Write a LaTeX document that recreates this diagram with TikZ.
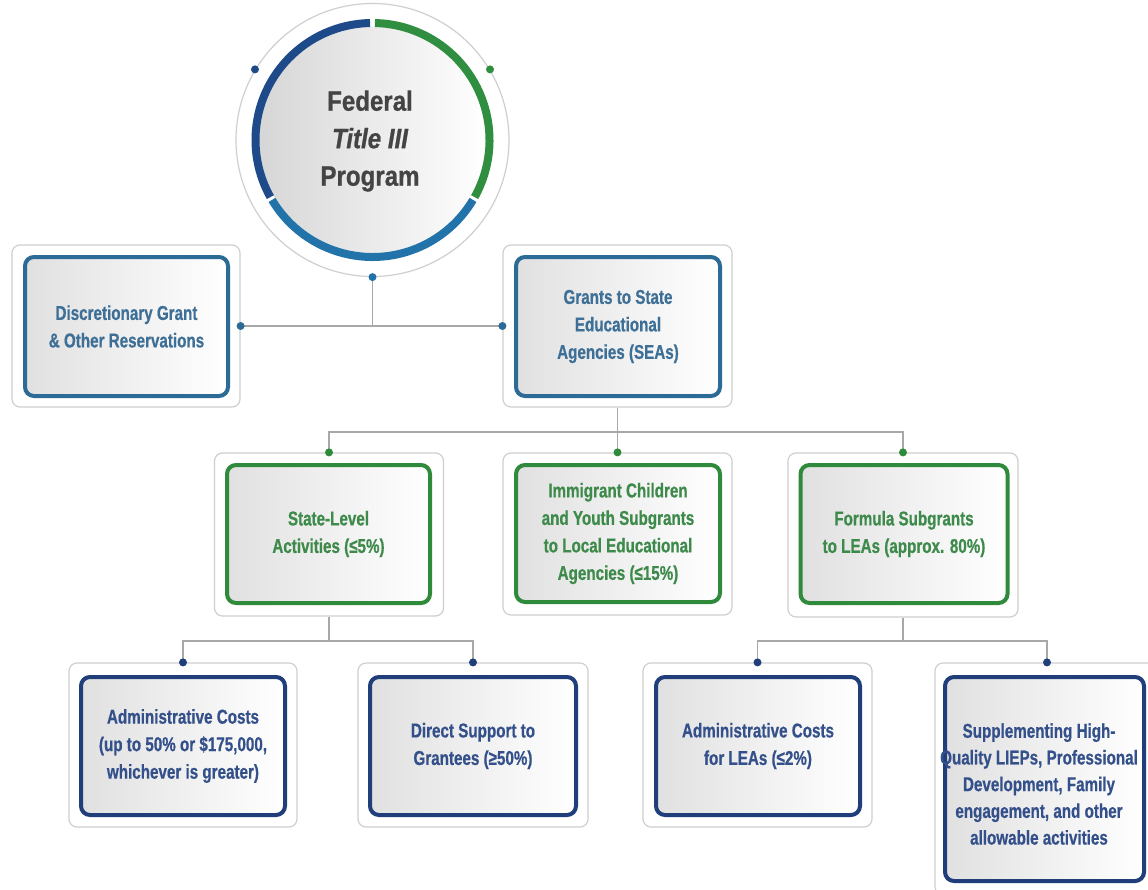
\documentclass[tikz,border=0pt]{standalone}
\usepackage{fontspec}
\newfontfamily\cond[FakeStretch=0.76,FakeBold=0.6]{Liberation Sans Bold}
\newfontfamily\condT[FakeStretch=0.86,FakeBold=0.8]{Liberation Sans Bold}
\newfontfamily\condTI[FakeStretch=0.86,FakeBold=0.8]{Liberation Sans Bold Italic}
\usetikzlibrary{calc}
\definecolor{ringdark}{HTML}{1F4A8A}
\definecolor{ringteal}{HTML}{2273AA}
\definecolor{ringgreen}{HTML}{2F8E40}
\definecolor{rowblue}{HTML}{2C6B96}
\definecolor{rowbluetext}{HTML}{3E6F96}
\definecolor{rowgreen}{HTML}{2F8A3C}
\definecolor{rowgreentext}{HTML}{3D8A4B}
\definecolor{rownavy}{HTML}{1F3E7A}
\definecolor{rownavytext}{HTML}{34508A}
\definecolor{conngray}{HTML}{A8A8A8}
\definecolor{boxgray}{HTML}{CFCFCF}
\definecolor{fedtext}{HTML}{444444}
\begin{document}
\begin{tikzpicture}[x=1pt,y=-1pt,
  outerbox/.style={draw=boxgray, line width=1.2pt, fill=white, rounded corners=8pt, inner sep=0pt},
  innerbox/.style={draw=#1, line width=4pt, rounded corners=9pt, left color=black!12, middle color=black!2, right color=white, inner sep=0pt},
  boxtext/.style={text=#1, font=\cond\fontsize{20}{27.5}\selectfont, align=center, inner sep=0pt},
  conn/.style={draw=conngray, line width=1.4pt},
  ringw/.style={line width=8pt, draw=#1}]
\useasboundingbox (0,0) rectangle (1148,889);
\clip (0,0) rectangle (1148,889);
\fill[white] (0,0) rectangle (1148,889);

% central circle
\node[circle, draw=boxgray, line width=1.2pt, minimum size=273, inner sep=0pt, fill=white] (fed) at (372.5,140) {};
\shade[left color=black!16, middle color=black!4, right color=white] (fed.center) circle (113.5);
\draw[ringw=ringdark] (fed.center) ++(-91.2:117) arc[start angle=-91.2, end angle=-209.2, radius=117];
\draw[ringw=ringteal] (fed.center) ++(-210.8:117) arc[start angle=-210.8, end angle=-329.2, radius=117];
\draw[ringw=ringgreen] (fed.center) ++(-330.8:117) arc[start angle=-330.8, end angle=-448.8, radius=117];
\node[font=\condT\fontsize{28}{37.5}\selectfont, text=fedtext, align=center] (fedt) at (370,141) {Federal\\ {\condTI Title III}\\ Program};

% row 1
\node[outerbox, minimum width=228, minimum height=162] (A) at (126,326) {};
\node[innerbox=rowblue, minimum width=203, minimum height=139] (Ai) at (126.5,326.5) {};
\node[boxtext=rowbluetext] (At) at (Ai) {Discretionary Grant\\ \& Other Reservations};

\node[outerbox, minimum width=229, minimum height=162] (B) at (617.5,326) {};
\node[innerbox=rowblue, minimum width=204, minimum height=139] (Bi) at (618,326.5) {};
\node[boxtext=rowbluetext] (Bt) at (Bi) {Grants to State\\ Educational\\ Agencies (SEAs)};

% row 2
\node[outerbox, minimum width=229, minimum height=163] (C) at (329,534.5) {};
\node[innerbox=rowgreen, minimum width=203, minimum height=138] (Ci) at (328.5,534) {};
\node[boxtext=rowgreentext] (Ct) at (Ci) {State-Level\\ Activities (≤5\%)};

\node[outerbox, minimum width=229, minimum height=162] (D) at (617.5,534) {};
\node[innerbox=rowgreen, minimum width=204, minimum height=137] (Di) at (618,533.5) {};
\node[boxtext=rowgreentext] (Dt) at (Di) {Immigrant Children\\ and Youth Subgrants\\ to Local Educational\\ Agencies (≤15\%)};

\node[outerbox, minimum width=230, minimum height=164] (E) at (903,535) {};
\node[innerbox=rowgreen, minimum width=207, minimum height=138] (Ei) at (904,534) {};
\node[boxtext=rowgreentext] (Et) at (Ei) {Formula Subgrants\\ to LEAs (approx. 80\%)};

% row 3
\node[outerbox, minimum width=228, minimum height=164] (F) at (183,745) {};
\node[innerbox=rownavy, minimum width=204, minimum height=138] (Fi) at (183,746) {};
\node[boxtext=rownavytext] (Ft) at (Fi) {Administrative Costs\\ (up to 50\% or \$175,000,\\ whichever is greater)};

\node[outerbox, minimum width=230, minimum height=164] (G) at (473,745) {};
\node[innerbox=rownavy, minimum width=206, minimum height=138] (Gi) at (473,746) {};
\node[boxtext=rownavytext] (Gt) at (Gi) {Direct Support to\\ Grantees (≥50\%)};

\node[outerbox, minimum width=229, minimum height=164] (H) at (757.5,745) {};
\node[innerbox=rownavy, minimum width=204, minimum height=138] (Hi) at (758,746) {};
\node[boxtext=rownavytext] (Ht) at (Hi) {Administrative Costs\\ for LEAs (≤2\%)};

\node[outerbox, minimum width=224, minimum height=232] (I) at (1047,779) {};
\node[innerbox=rownavy, minimum width=199, minimum height=204] (Ii) at (1044.5,779) {};
\node[boxtext=rownavytext, font=\cond\fontsize{20}{26.7}\selectfont] (It) at (1039,784) {Supplementing High-\\ Quality LIEPs, Professional\\ Development, Family\\ engagement, and other\\ allowable activities};

% connectors
\coordinate (j1) at (617.5,432);
\coordinate (j2) at (329,641);
\coordinate (j3) at (903,641);
\draw[conn] (fed.south) -- (fed.south |- A.east);
\draw[conn] (A.east) -- (B.west);
\draw[conn] (B.south) -- (j1);
\draw[conn] (C.north) |- (j1) -| (E.north);
\draw[conn] (j1) -- (D.north);
\draw[conn] (C.south) -- (j2);
\draw[conn] (F.north) |- (j2) -| (G.north);
\draw[conn] (E.south) -- (j3);
\draw[conn] (H.north) |- (j3) -| (I.north);

% dots
\fill[ringdark] (fed.149) circle (4);
\fill[ringgreen] (fed.31) circle (4);
\fill[ringteal] (fed.south) circle (4);
\fill[rowblue] (A.east) circle (4);
\fill[rowblue] (B.west) circle (4);
\fill[rowgreen] (C.north) circle (4);
\fill[rowgreen] (D.north) circle (4);
\fill[rowgreen] (E.north) circle (4);
\fill[rownavy] (F.north) circle (4);
\fill[rownavy] (G.north) circle (4);
\fill[rownavy] (H.north) circle (4);
\fill[rownavy] (I.north) circle (4);
\end{tikzpicture}
\end{document}
